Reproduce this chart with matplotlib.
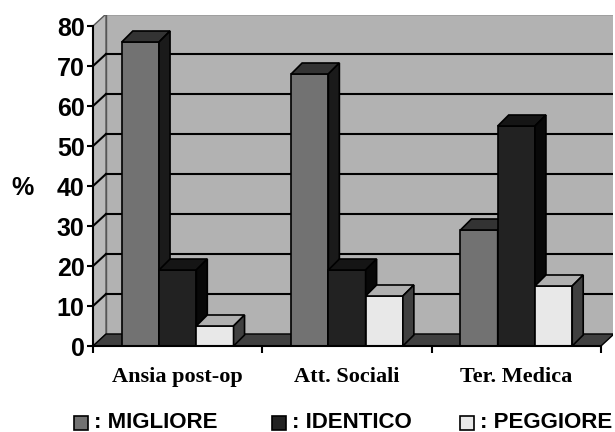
import numpy as np
import matplotlib.pyplot as plt
from matplotlib.patches import Polygon, Rectangle

# dati del grafico (%)
categories = ['Ansia post-op', 'Att. Sociali', 'Ter. Medica']
series_names = [': MIGLIORE', ': IDENTICO', ': PEGGIORE']
migliore = [76, 68, 29]
identico = [19, 19, 55]
peggiore = [5, 12.5, 15]
yticks = [0, 10, 20, 30, 40, 50, 60, 70, 80]

# colori facce: fronte, sopra, lato
face_colors = [
    ('#727272', '#333333', '#1a1a1a'),
    ('#222222', '#151515', '#080808'),
    ('#e8e8e8', '#b0b0b0', '#404040'),
]

W, H = 615, 432
fig = plt.figure(figsize=(W / 100, H / 100), dpi=100)

# pixel per unita
px_cat = 169.33
px_val = 4.0
DX, DY = 13 / px_cat, 12 / px_val      # profondita pareti
BDX, BDY = 11 / px_cat, 11 / px_val    # profondita barre

left, right, bottom, top = 93, 613, 346, 15
ax = fig.add_axes([left / W, (H - bottom) / H, (right - left) / W, (bottom - top) / H])
ax.set_xlim(0, (right - left) / px_cat)
ax.set_ylim(0, (bottom - top) / px_val)
ax.patch.set_visible(False)

n = len(categories)
ymax = yticks[-1]

# pareti e pavimento
back = Rectangle((DX, DY), n, ymax, facecolor='#b2b2b2', edgecolor='#555555', lw=1, zorder=0)
ax.add_patch(back)
side = Polygon([(0, 0), (DX, DY), (DX, ymax + DY), (0, ymax)], closed=True,
               facecolor='#b9b9b9', edgecolor='#555555', lw=1, zorder=0)
ax.add_patch(side)
for v in yticks[1:-1]:
    ax.plot([DX, n + DX], [v + DY, v + DY], color='black', lw=1.5, zorder=1)
    ax.plot([0, DX], [v, v + DY], color='black', lw=1.5, zorder=1)
floor = Polygon([(0, 0), (n, 0), (n + DX, DY), (DX, DY)], closed=True,
                facecolor='#404040', edgecolor='black', lw=1, zorder=2)
ax.add_patch(floor)

# barre 3D
bar_w = 0.22
off = (1 - 3 * bar_w) / 2
data = [migliore, identico, peggiore]
for i in range(n):
    for j, vals in enumerate(data):
        v = vals[i]
        x0 = i + off + j * bar_w
        fc, tc, sc = face_colors[j]
        ax.add_patch(Rectangle((x0, 0), bar_w, v, facecolor=fc, edgecolor='black',
                               lw=1.2, zorder=3))
        ax.add_patch(Polygon([(x0, v), (x0 + bar_w, v), (x0 + bar_w + BDX, v + BDY),
                              (x0 + BDX, v + BDY)], closed=True, facecolor=tc,
                             edgecolor='black', lw=1.2, zorder=3))
        ax.add_patch(Polygon([(x0 + bar_w, 0), (x0 + bar_w + BDX, BDY),
                              (x0 + bar_w + BDX, v + BDY), (x0 + bar_w, v)], closed=True,
                             facecolor=sc, edgecolor='black', lw=1.2, zorder=3))

# assi
for s in ['top', 'right']:
    ax.spines[s].set_visible(False)
ax.spines['left'].set_bounds(0, ymax)
ax.spines['bottom'].set_bounds(0, n)
ax.spines['left'].set_linewidth(1.5)
ax.spines['bottom'].set_linewidth(1.5)
ax.spines['left'].set_zorder(4)
ax.spines['bottom'].set_zorder(4)

ax.set_yticks(yticks)
ax.set_yticklabels([str(t) for t in yticks], fontfamily='Liberation Sans',
                   fontweight='bold', fontsize=18)
ax.tick_params(axis='y', length=4, width=1.5, pad=2)

ax.set_xticks(np.arange(n + 1))
ax.set_xticklabels([])
ax.set_xticks(np.arange(n) + 0.5, minor=True)
ax.set_xticklabels(categories, minor=True, fontfamily='Liberation Serif',
                   fontweight='bold', fontsize=16)
ax.tick_params(axis='x', which='major', length=5, width=1.5)
ax.tick_params(axis='x', which='minor', length=0, pad=15)

fig.text(22 / W, 1 - 188 / H, '%', fontfamily='Liberation Sans', fontweight='bold',
         fontsize=18, ha='center', va='center')

# legenda
leg_x = [74, 272, 460]
for k, name in enumerate(series_names):
    fig.add_artist(Rectangle((leg_x[k] / W, 1 - 430 / H), 14 / W, 14 / H,
                             facecolor=face_colors[k][0], edgecolor='black', lw=1.2,
                             transform=fig.transFigure))
    fig.text((leg_x[k] + 20) / W, 1 - 423 / H, name, fontfamily='Liberation Sans',
             fontweight='bold', fontsize=16, ha='left', va='center')

fig.savefig('out.png', dpi=100)
